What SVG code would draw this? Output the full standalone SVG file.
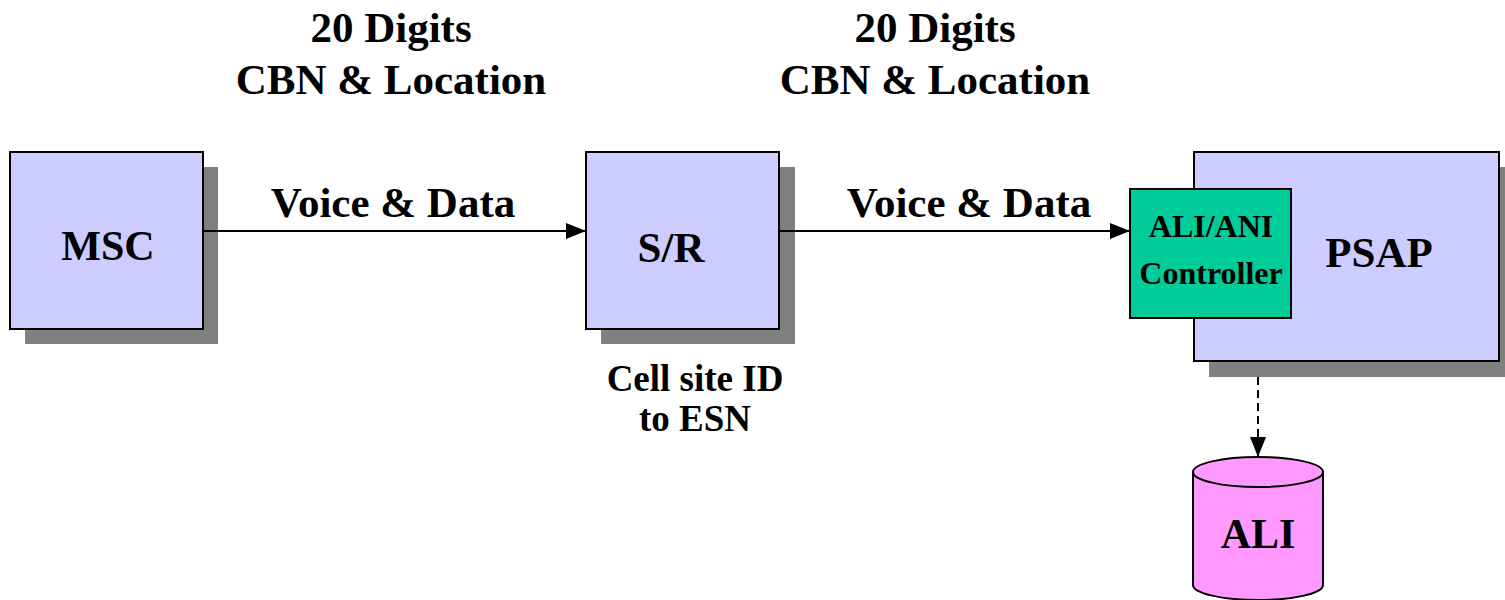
<svg xmlns="http://www.w3.org/2000/svg" width="1505" height="600" viewBox="0 0 1505 600">
<style>
text{font-family:"Liberation Serif","Times New Roman",serif;font-weight:bold;fill:#000;text-anchor:middle}
.box{fill:#CCCCFF;stroke:#000;stroke-width:2}
.shadow{fill:#808080}
.big{font-size:43px}
.b42{font-size:42px}
.top{font-size:43px}
.mid{font-size:37px}
.ctl{font-size:32px}
.conn{stroke:#000;stroke-width:2;fill:none}
</style>
<defs>
<marker id="ah" markerWidth="20" markerHeight="16" refX="20" refY="8" orient="auto" markerUnits="userSpaceOnUse">
<path d="M0,0 L20,8 L0,16 Z" fill="#000"/>
</marker>
</defs>
<rect width="1505" height="600" fill="#fff"/>
<g id="label-top1">
<text class="top" x="391" y="42">20 Digits</text>
<text class="top" x="391" y="94">CBN &amp; Location</text>
</g>
<g id="label-top2">
<text class="top" x="935" y="42">20 Digits</text>
<text class="top" x="935" y="94">CBN &amp; Location</text>
</g>
<g id="msc">
<rect class="shadow" x="25" y="167" width="193" height="177"/>
<rect class="box" x="10" y="152" width="193" height="177"/>
<text class="b42" x="108" y="260">MSC</text>
</g>
<g id="sr">
<rect class="shadow" x="601" y="167" width="194" height="177"/>
<rect class="box" x="586" y="152" width="193" height="177"/>
<text class="big" x="671" y="262">S/R</text>
</g>
<g id="sr-note">
<text class="mid" x="695" y="391">Cell site ID</text>
<text class="mid" x="695" y="431">to ESN</text>
</g>
<g id="psap">
<rect class="shadow" x="1209" y="167" width="300" height="210"/>
<rect class="box" x="1194" y="152" width="305" height="209"/>
<text class="big" x="1379" y="267">PSAP</text>
</g>
<g id="controller">
<rect x="1130" y="189" width="161" height="129" fill="#00CC99" stroke="#000" stroke-width="2"/>
<text class="ctl" x="1211" y="237">ALI/ANI</text>
<text class="ctl" x="1211" y="284">Controller</text>
</g>
<g id="ali">
<path d="M1193,472 L1193,585 A65,15 0 0 0 1323,585 L1323,472" fill="#FF99FF" stroke="#000" stroke-width="2"/>
<ellipse cx="1258" cy="472" rx="65" ry="15" fill="#FF99FF" stroke="#000" stroke-width="2"/>
<text class="b42" x="1258" y="548">ALI</text>
</g>
<g id="connectors">
<line class="conn" x1="203" y1="231" x2="586" y2="231" marker-end="url(#ah)"/>
<line class="conn" x1="779" y1="231" x2="1130" y2="231" marker-end="url(#ah)"/>
<line class="conn" x1="1258" y1="377" x2="1258" y2="457" stroke-dasharray="8,5" marker-end="url(#ah)"/>
<text class="big" x="393" y="217">Voice &amp; Data</text>
<text class="big" x="969" y="217">Voice &amp; Data</text>
</g>
</svg>
